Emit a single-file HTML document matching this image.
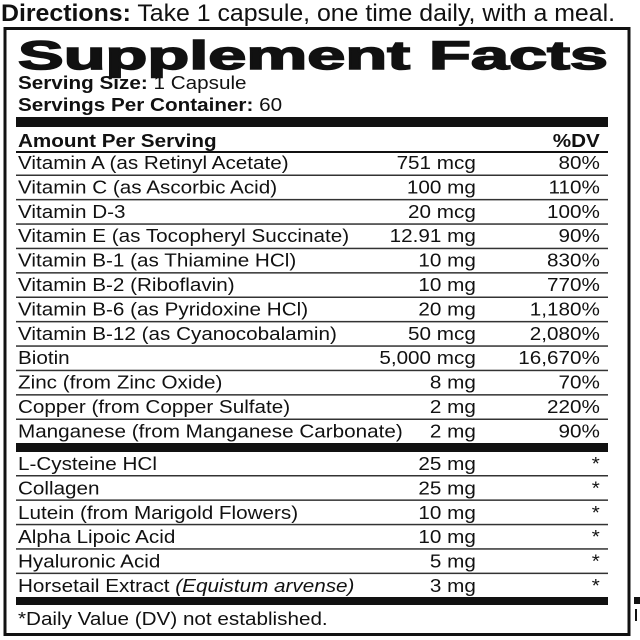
<!DOCTYPE html>
<html><head><meta charset="utf-8"><style>
html,body{margin:0;padding:0;background:#fff;}
svg{display:block;}
text{font-family:"Liberation Sans",Arial,sans-serif;fill:#111;}
.b{font-weight:bold;}
.r{text-anchor:end;}
</style></head><body>
<svg width="640" height="640" viewBox="0 0 640 640" xmlns="http://www.w3.org/2000/svg">
<rect width="640" height="640" fill="#fff"/>
<text x="1" y="21" font-size="24" textLength="614" lengthAdjust="spacingAndGlyphs"><tspan class="b">Directions:</tspan> Take 1 capsule, one time daily, with a meal.</text>
<rect x="5" y="28.5" width="624" height="606" fill="none" stroke="#111" stroke-width="3"/>
<text x="18" y="69" font-size="40" font-weight="900" textLength="590" lengthAdjust="spacingAndGlyphs" stroke="#111" stroke-width="1.5">Supplement Facts</text>
<rect x="16" y="117" width="592" height="10" fill="#111"/>
<rect x="16" y="151" width="592" height="2" fill="#111"/>
<g transform="scale(1.117,1)" font-size="18.5">
<text x="16.1" y="89"><tspan class="b">Serving Size:</tspan> 1 Capsule</text>
<text x="16.1" y="111"><tspan class="b">Servings Per Container:</tspan> 60</text>
<text x="16.1" y="147" class="b">Amount Per Serving</text>
<text x="537" y="147" class="b r">%DV</text>
<text x="16.1" y="169">Vitamin A (as Retinyl Acetate)</text><text x="426" y="169" class="r">751 mcg</text><text x="537" y="169" class="r">80%</text>
<text x="16.1" y="193.4">Vitamin C (as Ascorbic Acid)</text><text x="426" y="193.4" class="r">100 mg</text><text x="537" y="193.4" class="r">110%</text>
<text x="16.1" y="217.8">Vitamin D-3</text><text x="426" y="217.8" class="r">20 mcg</text><text x="537" y="217.8" class="r">100%</text>
<text x="16.1" y="242.2">Vitamin E (as Tocopheryl Succinate)</text><text x="426" y="242.2" class="r">12.91 mg</text><text x="537" y="242.2" class="r">90%</text>
<text x="16.1" y="266.6">Vitamin B-1 (as Thiamine HCl)</text><text x="426" y="266.6" class="r">10 mg</text><text x="537" y="266.6" class="r">830%</text>
<text x="16.1" y="291">Vitamin B-2 (Riboflavin)</text><text x="426" y="291" class="r">10 mg</text><text x="537" y="291" class="r">770%</text>
<text x="16.1" y="315.4">Vitamin B-6 (as Pyridoxine HCl)</text><text x="426" y="315.4" class="r">20 mg</text><text x="537" y="315.4" class="r">1,180%</text>
<text x="16.1" y="339.8">Vitamin B-12 (as Cyanocobalamin)</text><text x="426" y="339.8" class="r">50 mcg</text><text x="537" y="339.8" class="r">2,080%</text>
<text x="16.1" y="364.2">Biotin</text><text x="426" y="364.2" class="r">5,000 mcg</text><text x="537" y="364.2" class="r">16,670%</text>
<text x="16.1" y="388.6">Zinc (from Zinc Oxide)</text><text x="426" y="388.6" class="r">8 mg</text><text x="537" y="388.6" class="r">70%</text>
<text x="16.1" y="413">Copper (from Copper Sulfate)</text><text x="426" y="413" class="r">2 mg</text><text x="537" y="413" class="r">220%</text>
<text x="16.1" y="437.4">Manganese (from Manganese Carbonate)</text><text x="426" y="437.4" class="r">2 mg</text><text x="537" y="437.4" class="r">90%</text>
<text x="16.1" y="470">L-Cysteine HCl</text><text x="426" y="470" class="r">25 mg</text><text x="537" y="470" class="r">*</text>
<text x="16.1" y="494.4">Collagen</text><text x="426" y="494.4" class="r">25 mg</text><text x="537" y="494.4" class="r">*</text>
<text x="16.1" y="518.8">Lutein (from Marigold Flowers)</text><text x="426" y="518.8" class="r">10 mg</text><text x="537" y="518.8" class="r">*</text>
<text x="16.1" y="543.2">Alpha Lipoic Acid</text><text x="426" y="543.2" class="r">10 mg</text><text x="537" y="543.2" class="r">*</text>
<text x="16.1" y="567.6">Hyaluronic Acid</text><text x="426" y="567.6" class="r">5 mg</text><text x="537" y="567.6" class="r">*</text>
<text x="16.1" y="592">Horsetail Extract <tspan font-style="italic">(Equistum arvense)</tspan></text><text x="426" y="592" class="r">3 mg</text><text x="537" y="592" class="r">*</text>
<text x="16.1" y="625">*Daily Value (DV) not established.</text>
</g>
<g fill="#333">
<rect x="16" y="174.5" width="592" height="1.5"/>
<rect x="16" y="198.9" width="592" height="1.5"/>
<rect x="16" y="223.3" width="592" height="1.5"/>
<rect x="16" y="247.7" width="592" height="1.5"/>
<rect x="16" y="272.1" width="592" height="1.5"/>
<rect x="16" y="296.5" width="592" height="1.5"/>
<rect x="16" y="320.9" width="592" height="1.5"/>
<rect x="16" y="345.3" width="592" height="1.5"/>
<rect x="16" y="369.7" width="592" height="1.5"/>
<rect x="16" y="394.1" width="592" height="1.5"/>
<rect x="16" y="418.5" width="592" height="1.5"/>
<rect x="16" y="475" width="592" height="1.5"/>
<rect x="16" y="499.4" width="592" height="1.5"/>
<rect x="16" y="523.8" width="592" height="1.5"/>
<rect x="16" y="548.2" width="592" height="1.5"/>
<rect x="16" y="572.6" width="592" height="1.5"/>
</g>
<rect x="16" y="443" width="592" height="9" fill="#111"/>
<rect x="16" y="597" width="592" height="8" fill="#111"/>
<rect x="634" y="597" width="6" height="7" fill="#111"/>
<rect x="635" y="609" width="2" height="12" fill="#111"/>
</svg>
</body></html>
